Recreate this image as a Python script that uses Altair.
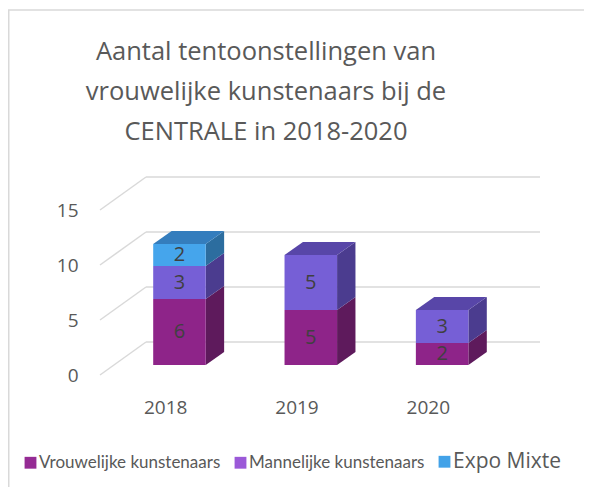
import altair as alt
import pandas as pd

# ---------------- data ----------------
years = ["2018", "2019", "2020"]
series = ["Vrouwelijke kunstenaars", "Mannelijke kunstenaars", "Expo Mixte"]
vrouwelijke = [6, 5, 2]
mannelijke = [3, 5, 3]
expo_mixte = [2, 0, 0]
y_ticks = [0, 5, 10, 15]
title_lines = ["Aantal tentoonstellingen van",
               "vrouwelijke kunstenaars bij de",
               "CENTRALE in 2018-2020"]

# ---------------- style ----------------
front_colors = ["#8E2489", "#765FD6", "#45A5EC"]
side_colors = ["#5E1A5C", "#4B3C8F", "#2C6D9F"]
top_colors = ["#6E1F6B", "#5846A8", "#347DBD"]
legend_colors = ["#952B94", "#9B59D8", "#42A2E8"]
GRID = "#D9D9D9"
TEXT = "#595959"
FONT = "Open Sans"

W, H = 440, 198          # plot area
Y_MAX = 18               # value domain incl. depth
DX, DY = 46, 3           # floor depth (x in px units, y in value units)
F0, F1 = 0.3, 0.7        # bar depth position (front / back) as fraction of floor
BAND = (W - DX) / len(years)
BAR_W = 0.4 * BAND
DDX, DDY = (F1 - F0) * DX, (F1 - F0) * DY

values = {series[0]: vrouwelijke, series[1]: mannelijke, series[2]: expo_mixte}

front_rows, poly_rows = [], []
for i, yr in enumerate(years):
    cum = 0
    last = None
    xl = i * BAND + BAND / 2 - BAR_W / 2 + F0 * DX
    xr = xl + BAR_W
    for s in series:
        v = values[s][i]
        if v == 0:
            continue
        y0 = cum + F0 * DY
        y1 = cum + v + F0 * DY
        front_rows.append(dict(year=yr, series=s, value=v, xl=xl, xr=xr,
                               y0=y0, y1=y1, xm=(xl + xr) / 2, ym=(y0 + y1) / 2))
        key = f"side-{yr}-{s}"
        for k, (px, py) in enumerate([(xr, y0), (xr, y1), (xr + DDX, y1 + DDY), (xr + DDX, y0 + DDY)]):
            poly_rows.append(dict(key=key, face="side", series=s, k=k, px=px, py=py))
        cum += v
        last = (s, y1)
    s, t = last
    key = f"top-{yr}-{s}"
    for k, (px, py) in enumerate([(xl, t), (xr, t), (xr + DDX, t + DDY), (xl + DDX, t + DDY)]):
        poly_rows.append(dict(key=key, face="top", series=s, k=k, px=px, py=py))

front_df = pd.DataFrame(front_rows)
poly_df = pd.DataFrame(poly_rows)

grid_rows = []
for v in y_ticks:
    grid_rows.append(dict(x=0, x2=DX, y=v, y2=v + DY))
    grid_rows.append(dict(x=DX, x2=W, y=v + DY, y2=v + DY))
grid_df = pd.DataFrame(grid_rows)

year_df = pd.DataFrame({"year": years,
                        "xc": [i * BAND + BAND / 2 for i in range(len(years))]})

xscale = alt.Scale(domain=[0, W], nice=False, zero=False)
yscale = alt.Scale(domain=[0, Y_MAX], nice=False, zero=False)
yaxis = alt.Axis(values=y_ticks, grid=False, domain=False, ticks=False,
                 labelPadding=22, labelFont=FONT, labelFontSize=19,
                 labelColor=TEXT, title=None)


def X(f):
    return alt.X(f, scale=xscale, axis=None)


def Y(f):
    return alt.Y(f, scale=yscale, axis=yaxis, stack=None)


grid = alt.Chart(grid_df).mark_rule(color=GRID, strokeWidth=1.5).encode(
    x=X("x:Q"), x2="x2:Q", y=Y("y:Q"), y2="y2:Q")

side = alt.Chart(poly_df).transform_filter(alt.datum.face == "side").mark_line(
    filled=True, interpolate="linear-closed", strokeWidth=0).encode(
    x=X("px:Q"), y=Y("py:Q"),
    color=alt.Color("series:N", scale=alt.Scale(domain=series, range=side_colors), legend=None),
    detail="key:N", order="k:Q")

top = alt.Chart(poly_df).transform_filter(alt.datum.face == "top").mark_line(
    filled=True, interpolate="linear-closed", strokeWidth=0).encode(
    x=X("px:Q"), y=Y("py:Q"),
    color=alt.Color("series:N", scale=alt.Scale(domain=series, range=top_colors), legend=None),
    detail="key:N", order="k:Q")

front = alt.Chart(front_df).mark_rect(strokeWidth=0.5).encode(
    x=X("xl:Q"), x2="xr:Q", y=Y("y0:Q"), y2="y1:Q",
    color=alt.Color("series:N", scale=alt.Scale(domain=series, range=front_colors), legend=None))

value_labels = alt.Chart(front_df).mark_text(
    font=FONT, fontSize=20, color="#404040", baseline="middle").encode(
    x=X("xm:Q"), y=Y("ym:Q"), text="value:Q")

year_labels = alt.Chart(year_df).mark_text(
    font=FONT, fontSize=19, color=TEXT, baseline="middle").encode(
    x=X("xc:Q"), y=alt.value(H + 33), text="year:N")

title = alt.Chart(pd.DataFrame({"t": [0]})).mark_text(
    font=FONT, fontSize=25.5, color=TEXT, baseline="alphabetic", align="center",
    lineHeight=40).encode(
    x=alt.value(166), y=alt.value(-117), text=alt.value(title_lines))

frame = alt.Chart(pd.DataFrame({"t": [0]})).mark_rect(
    fillOpacity=0, stroke=GRID, strokeWidth=1.5).encode(
    x=alt.value(-91.25), y=alt.value(-167), x2=alt.value(W + 200), y2=alt.value(H + 300))

legend_layer = alt.Chart(pd.DataFrame({"series": series})).mark_square(opacity=0).encode(
    x=alt.value(0), y=alt.value(0),
    color=alt.Color("series:N",
                    scale=alt.Scale(domain=series, range=legend_colors),
                    legend=alt.Legend(
                        orient="none", direction="horizontal", legendX=-78, legendY=276,
                        title=None, symbolType="square", symbolSize=140,
                        symbolStrokeWidth=0, symbolOpacity=1,
                        labelFont={"expr": "datum.label == 'Expo Mixte' ? 'Open Sans' : 'Lato'"},
                        labelFontSize={"expr": "datum.label == 'Expo Mixte' ? 21 : 17"},
                        labelColor=TEXT, labelOffset=0, columnPadding=11,
                        labelLimit=400, labelBaseline="middle")))

chart = alt.layer(grid, side, top, front, value_labels, year_labels, title, frame,
                  legend_layer).resolve_scale(color="independent").properties(
    width=W, height=H,
    background="white",
    autosize=alt.AutoSizeParams(type="none"),
    padding={"left": 92, "top": 169, "right": 44, "bottom": 112},
).configure_view(stroke=None)

chart.save("out.html", embed_options={"renderer": "svg", "actions": False})
